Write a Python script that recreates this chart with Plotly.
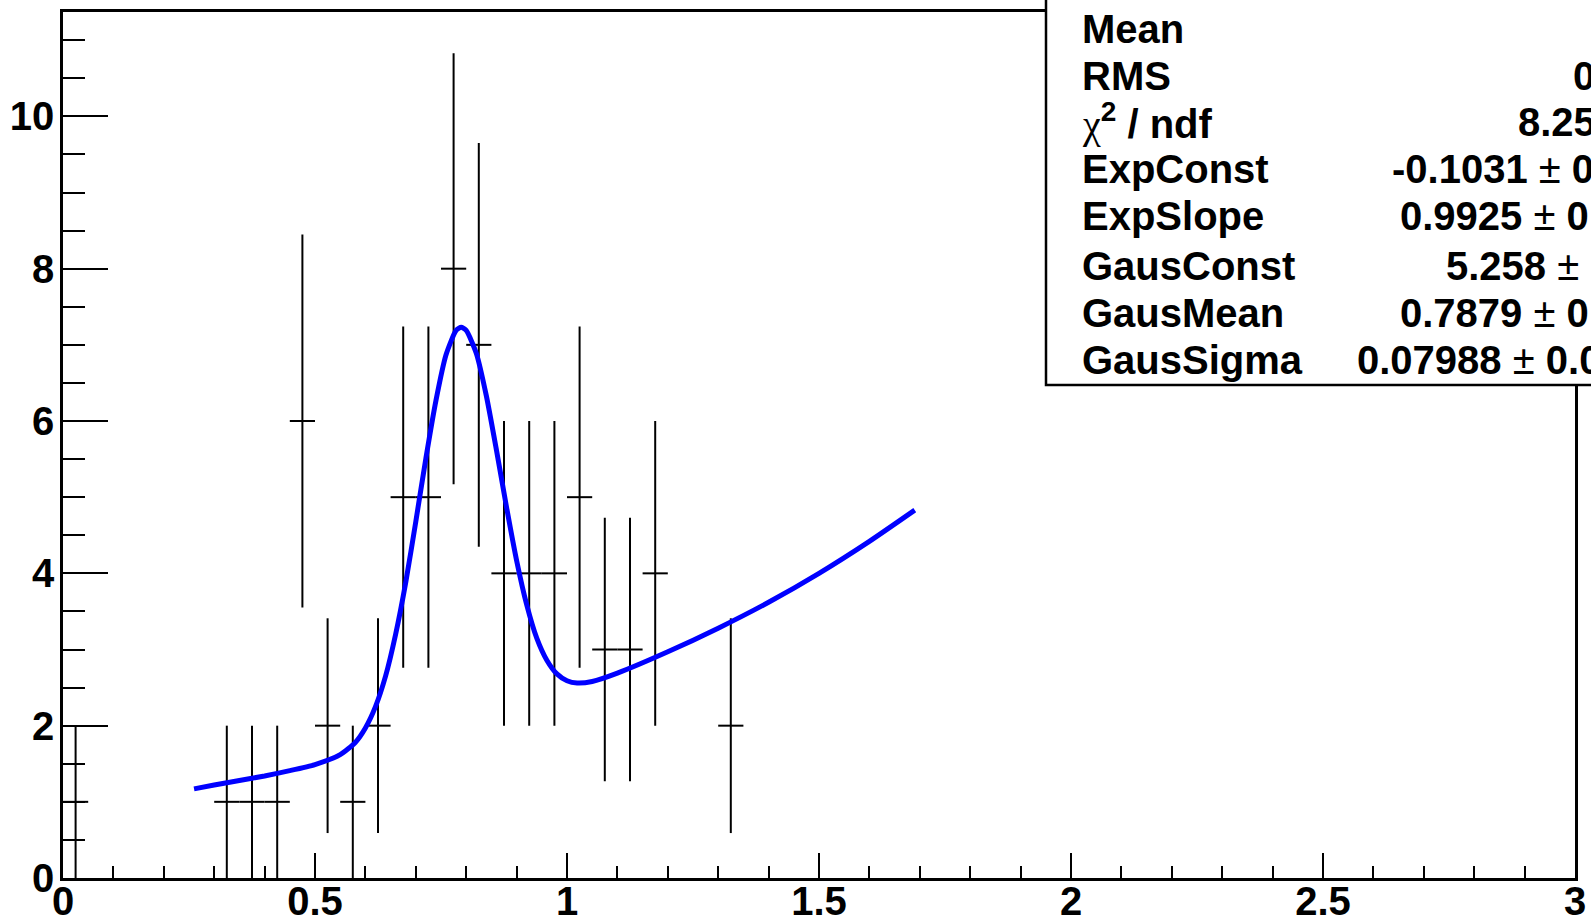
import plotly.graph_objects as go

# ---------------- data ----------------
bin_centers = [0.025, 0.325, 0.375, 0.425, 0.475, 0.525, 0.575, 0.625, 0.675, 0.725,
               0.775, 0.825, 0.875, 0.925, 0.975, 1.025, 1.075, 1.125, 1.175, 1.325]
bin_counts = [1, 1, 1, 1, 6, 2, 1, 2, 5, 5, 8, 7, 4, 4, 4, 5, 3, 3, 4, 2]
bin_errors = [1.0, 1.0, 1.0, 1.0, 2.45, 1.41, 1.0, 1.41, 2.24, 2.24,
              2.83, 2.65, 2.0, 2.0, 2.0, 2.24, 1.73, 1.73, 2.0, 1.41]
bin_half_width = 0.025

fit_x = [0.26, 0.30, 0.35, 0.40, 0.45, 0.50, 0.55, 0.58, 0.60, 0.62, 0.64, 0.66, 0.68,
         0.70, 0.72, 0.74, 0.76, 0.78, 0.79, 0.80, 0.82, 0.84, 0.86, 0.88, 0.90, 0.92,
         0.94, 0.96, 0.98, 1.00, 1.02, 1.05, 1.10, 1.20, 1.30, 1.40, 1.50, 1.60, 1.69]
fit_y = [1.17, 1.22, 1.28, 1.34, 1.41, 1.49, 1.62, 1.78, 1.97, 2.25, 2.65, 3.20, 3.88,
         4.68, 5.51, 6.27, 6.87, 7.19, 7.23, 7.19, 6.89, 6.33, 5.62, 4.87, 4.17, 3.59,
         3.15, 2.86, 2.68, 2.59, 2.56, 2.58, 2.69, 2.97, 3.28, 3.62, 4.00, 4.42, 4.83]

x_tick_vals = [0, 0.5, 1, 1.5, 2, 2.5, 3]
x_tick_text = ["0", "0.5", "1", "1.5", "2", "2.5", "3"]
y_tick_vals = [0, 2, 4, 6, 8, 10]
y_tick_text = ["0", "2", "4", "6", "8", "10"]

stat_names = ["Mean", "RMS", "χ<sup>2</sup> / ndf", "ExpConst", "ExpSlope",
              "GausConst", "GausMean", "GausSigma"]
stat_values = ["", "0", "8.25", "-0.1031 ± 0", "0.9925 ± 0", "5.258 ±",
               "0.7879 ± 0", "0.07988 ± 0.0"]

# ---------------- geometry ----------------
W, H = 1591, 922
L, R, T, B = 63, 16, 12, 44
PW, PH = W - L - R, H - T - B


def px(xpix):
    return (xpix - L) / PW


def py(ypix):
    return (H - B - ypix) / PH


FONT = "Liberation Sans, Arial, sans-serif"
FS = 40

fig = go.Figure()

fig.add_trace(go.Scatter(
    x=bin_centers, y=bin_counts, mode="markers",
    marker=dict(size=1, color="rgba(0,0,0,0)"),
    error_y=dict(type="data", array=bin_errors, visible=True, width=0,
                 thickness=2, color="black"),
    error_x=dict(type="constant", value=bin_half_width, visible=True, width=0,
                 thickness=2, color="black"),
    showlegend=False, hoverinfo="skip",
))

fig.add_trace(go.Scatter(
    x=fit_x, y=fit_y, mode="lines",
    line=dict(color="#0000ff", width=5, shape="spline", smoothing=0.6),
    showlegend=False, hoverinfo="skip",
))

fig.update_layout(
    width=W, height=H,
    margin=dict(l=L, r=R, t=T, b=B, pad=0, autoexpand=False),
    paper_bgcolor="white", plot_bgcolor="white",
    font=dict(family=FONT, color="black"),
    xaxis=dict(
        range=[0, 3], showgrid=False, zeroline=False, automargin=False,
        showline=True, linewidth=2.5, linecolor="black", mirror=True,
        ticks="inside", ticklen=25, tickwidth=2, tickcolor="black",
        tickvals=x_tick_vals, ticktext=x_tick_text, ticklabelstandoff=-14,
        tickfont=dict(family=FONT, size=FS, weight="bold", color="black"),
        minor=dict(ticks="inside", ticklen=12, tickwidth=2, tickcolor="black",
                   dtick=0.1, tick0=0, showgrid=False),
    ),
    yaxis=dict(
        range=[0, 11.37], showgrid=False, zeroline=False, automargin=False,
        showline=True, linewidth=2.5, linecolor="black", mirror=True,
        ticks="inside", ticklen=45, tickwidth=2, tickcolor="black",
        tickvals=y_tick_vals, ticktext=y_tick_text, ticklabelstandoff=-2,
        tickfont=dict(family=FONT, size=FS, weight="bold", color="black"),
        minor=dict(ticks="inside", ticklen=22, tickwidth=2, tickcolor="black",
                   dtick=0.5, tick0=0, showgrid=False),
    ),
)

# stats box
fig.add_shape(type="rect", xref="paper", yref="paper",
              x0=px(1046), x1=px(1700), y0=py(385), y1=py(-100),
              fillcolor="white", line=dict(color="black", width=2.5), layer="above")

row_y = [29, 76, 122, 169, 216, 266, 313, 360]
value_x = [1600, 1571, 1516, 1390, 1398, 1444, 1398, 1355]
for name, val, yy, vx in zip(stat_names, stat_values, row_y, value_x):
    if name.startswith("χ"):
        name = ('<span style="font-family:Liberation Serif;font-weight:normal">χ</span>'
                '<sup>2</sup> / ndf')
    fig.add_annotation(xref="paper", yref="paper", x=px(1080), y=py(yy),
                       xanchor="left", yanchor="middle", showarrow=False,
                       text=name, font=dict(family=FONT, size=FS, weight="bold", color="black"))
    if val:
        v = val.replace("±", '<span style="font-weight:normal">±</span>')
        fig.add_annotation(xref="paper", yref="paper", x=px(vx), y=py(yy),
                           xanchor="left", yanchor="middle", showarrow=False,
                           text=v, font=dict(family=FONT, size=FS, weight="bold", color="black"))

fig.write_html("out.html")
